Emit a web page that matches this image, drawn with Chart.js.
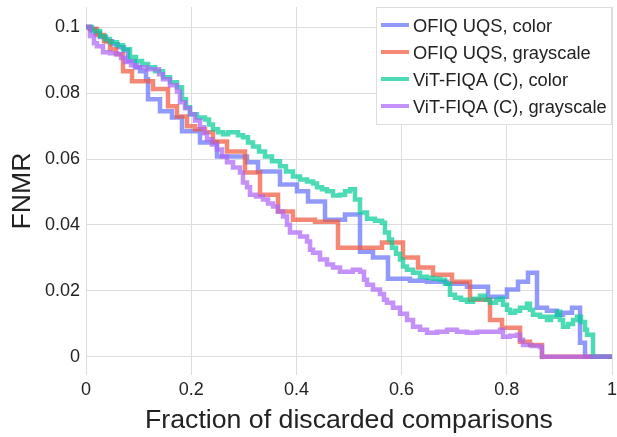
<!DOCTYPE html>
<html>
<head>
<meta charset="utf-8">
<script src="https://cdn.jsdelivr.net/npm/chart.js@4/dist/chart.umd.min.js"></script>
<style>
  body { margin: 0; background: #fff; }
  canvas { display: block; }
</style>
</head>
<body>
<canvas id="fnmr" width="617" height="437"></canvas>
<script>
// FNMR vs fraction of discarded comparisons as [fraction, fnmr] step points
const ofiqColor = [[0,.1],[.0076,.0994],[.0171,.0982],[.0266,.097],[.038,.0957],[.0494,.0948],[.0608,.0939],
  [.0722,.093],[.0798,.0897],[.0932,.0878],[.1027,.0866],[.1141,.0842],[.1179,.0781],[.1407,.0745],[.1635,.0726],
  [.1825,.0684],[.2167,.065],[.249,.0608],[.3061,.059],[.327,.0562],[.3688,.0523],[.4011,.0502],[.4221,.0471],
  [.4544,.0416],[.4924,.0432],[.5209,.0319],[.5456,.0301],[.5741,.0237],[.616,.0231],[.6483,.0228],[.6863,.0222],
  [.7243,.0213],[.7643,.0182],[.8004,.0204],[.8213,.0228],[.8403,.0255],[.8574,.0149],[.8764,.014],[.8954,.0128],
  [.9068,.0134],[.924,.0149],[.9392,.0043],[.9487,0],[1,0]];

const ofiqGray = [[0,.1],[.0076,.0994],[.0209,.0976],[.0342,.0957],[.0456,.0933],[.057,.0918],[.0703,.0866],
  [.0875,.0836],[.1274,.0812],[.1559,.076],[.173,.0729],[.192,.0699],[.2072,.069],[.2262,.0681],[.2414,.0653],
  [.2681,.0623],[.3023,.0559],[.3308,.0492],[.365,.0441],[.3935,.0416],[.4354,.041],[.4791,.0331],[.5627,.0347],
  [.6027,.0301],[.6312,.0271],[.6597,.0249],[.6958,.0228],[.73,.0173],[.7681,.0112],[.7909,.0088],[.8251,.0046],
  [.8441,.0036],[.8669,0],[1,0]];

const vitColor = [[0,.1],[.0114,.0988],[.0266,.0973],[.0361,.0964],[.0456,.0954],[.0589,.0945],[.0703,.0933],
  [.0837,.0909],[.0951,.0897],[.1065,.0888],[.1179,.0878],[.1312,.0866],[.1464,.0848],[.1597,.0833],[.173,.0818],
  [.1825,.0781],[.1901,.0757],[.1977,.0736],[.211,.0726],[.2262,.072],[.2338,.0705],[.2414,.069],[.251,.0681],
  [.2605,.0675],[.27,.0681],[.2795,.0681],[.289,.0672],[.2985,.0666],[.308,.065],[.3175,.0638],[.3289,.0623],
  [.3403,.0608],[.3536,.0593],[.3688,.0578],[.3802,.0562],[.3935,.0547],[.4068,.0538],[.4202,.0532],[.4316,.0526],
  [.4392,.0514],[.4487,.0508],[.4582,.0502],[.4696,.0489],[.4829,.0492],[.4924,.0502],[.5019,.0508],[.5114,.0477],
  [.5209,.0438],[.5342,.0419],[.5494,.0413],[.5627,.0407],[.5684,.0377],[.576,.0356],[.5817,.0331],[.5894,.0313],
  [.597,.0295],[.6027,.0274],[.6103,.0264],[.6217,.0255],[.635,.0243],[.6483,.024],[.6597,.0237],[.673,.0234],
  [.6825,.0222],[.692,.0188],[.7015,.0179],[.7129,.0173],[.7243,.0167],[.7357,.0176],[.749,.0185],[.7586,.0173],
  [.7681,.0164],[.7795,.0173],[.7871,.0176],[.7928,.0158],[.8004,.0143],[.8061,.0134],[.8156,.014],[.8251,.0149],
  [.8384,.0161],[.8441,.0143],[.8498,.0128],[.8631,.0122],[.8764,.0112],[.884,.0122],[.8954,.0137],[.9011,.0112],
  [.9068,.0091],[.9163,.01],[.9259,.0112],[.9335,.0122],[.9411,.0106],[.9487,.0082],[.9525,.0067],[.962,.0067],
  [.9639,0],[1,0]];

const vitGray = [[0,.1],[.0076,.0973],[.0152,.0951],[.0209,.0942],[.0323,.0924],[.0456,.0921],[.0589,.0918],
  [.0665,.0906],[.0741,.0894],[.0856,.0884],[.097,.0878],[.116,.0872],[.1312,.0872],[.1388,.0857],[.1464,.0842],
  [.1597,.0824],[.173,.0805],[.1787,.0772],[.1882,.0754],[.1977,.0736],[.2072,.0717],[.2167,.0696],[.2243,.0678],
  [.23,.066],[.2395,.0644],[.249,.0629],[.2586,.0608],[.2681,.059],[.2795,.0574],[.2928,.0559],[.2985,.0529],
  [.3061,.0514],[.3118,.0492],[.3232,.0486],[.3365,.0477],[.346,.0465],[.3555,.0456],[.365,.0441],[.3745,.0426],
  [.3821,.0401],[.3878,.0377],[.4068,.0365],[.4202,.035],[.4259,.0325],[.4316,.0316],[.4449,.0295],[.4582,.028],
  [.4696,.0271],[.4829,.0258],[.4962,.0258],[.5076,.0264],[.5209,.0258],[.5285,.0234],[.5342,.0219],[.5456,.0204],
  [.5589,.0191],[.5665,.0173],[.5722,.0164],[.5837,.0149],[.597,.0131],[.6103,.0112],[.6217,.0091],[.635,.0082],
  [.6483,.0073],[.6673,.0076],[.6863,.0082],[.7053,.0076],[.7243,.0073],[.7433,.0076],[.7624,.0076],[.7871,.0082],
  [.7928,.0061],[.8061,.0064],[.8194,.0067],[.8251,.0052],[.8308,.0036],[.8479,.0033],[.8631,.003],[.8669,0],[1,0]];

const seriesNames = ['OFIQ UQS, color', 'OFIQ UQS, grayscale', 'ViT-FIQA (C), color', 'ViT-FIQA (C), grayscale'];
const seriesColors = ['rgba(99,110,250,0.7)', 'rgba(239,85,59,0.7)', 'rgba(0,204,150,0.7)', 'rgba(171,99,250,0.7)'];

const xTicks = [0, 0.2, 0.4, 0.6, 0.8, 1];
const xTickLabels = ['0', '0.2', '0.4', '0.6', '0.8', '1'];
const yTicks = [0, 0.02, 0.04, 0.06, 0.08, 0.1];
const yTickLabels = ['0', '0.02', '0.04', '0.06', '0.08', '0.1'];

const FONT = '"Liberation Sans", Arial, sans-serif';
const INK = '#222';
const GRID = '#dedede';

const toPts = arr => arr.map(([x, y]) => ({x, y}));

// legend box drawn inside the plot, top right, like the original
const insideLegend = {
  id: 'insideLegend',
  afterDraw(chart) {
    const {ctx, chartArea} = chart;
    const w = 236, h = 118;
    const x0 = chartArea.right - w, y0 = chartArea.top;
    ctx.save();
    ctx.fillStyle = '#fff';
    ctx.fillRect(x0, y0, w, h);
    ctx.strokeStyle = GRID;
    ctx.lineWidth = 1;
    ctx.strokeRect(x0 + 0.5, y0 + 0.5, w - 1, h - 1);
    ctx.font = '18.3px ' + FONT;
    ctx.textBaseline = 'middle';
    chart.data.datasets.forEach((ds, i) => {
      const y = y0 + 18 + i * 27;
      ctx.strokeStyle = ds.borderColor;
      ctx.lineWidth = 4;
      ctx.beginPath();
      ctx.moveTo(x0 + 5, y);
      ctx.lineTo(x0 + 33, y);
      ctx.stroke();
      ctx.fillStyle = INK;
      ctx.fillText(ds.label, x0 + 37, y + 1.5);
    });
    ctx.restore();
  }
};

// keep the plot box exactly where the layout padding puts it
const noLabelPad = axis => { axis.paddingTop = 0; axis.paddingBottom = 0; axis.paddingLeft = 0; axis.paddingRight = 0; };

const series = [ofiqColor, ofiqGray, vitColor, vitGray];

new Chart(document.getElementById('fnmr'), {
  type: 'line',
  data: {
    datasets: series.map((s, i) => ({
      label: seriesNames[i],
      data: toPts(s),
      borderColor: seriesColors[i],
      borderWidth: 4.5,
      stepped: true,
      pointRadius: 0,
      fill: false,
      order: series.length - i, // later traces on top
    })),
  },
  options: {
    responsive: false,
    animation: false,
    devicePixelRatio: 1,
    layout: { padding: { top: 7, right: 5, left: 0, bottom: 0 } },
    plugins: { legend: { display: false }, tooltip: { enabled: false } },
    scales: {
      x: {
        type: 'linear',
        min: 0,
        max: 1,
        afterBuildTicks: axis => { axis.ticks = xTicks.map(v => ({value: v})); },
        afterFit: axis => { axis.height = 62; noLabelPad(axis); },
        grid: { color: GRID, drawTicks: false },
        border: { display: false },
        ticks: {
          padding: 4,
          color: INK,
          font: { family: FONT, size: 18 },
          maxRotation: 0,
          callback: (v, i) => xTickLabels[i],
        },
        title: {
          display: true,
          text: 'Fraction of discarded comparisons',
          color: INK,
          font: { family: FONT, size: 26.7, lineHeight: 1 },
          padding: { top: 0, bottom: 3 },
        },
      },
      y: {
        type: 'linear',
        min: -0.0055,
        max: 0.1061,
        afterBuildTicks: axis => { axis.ticks = yTicks.map(v => ({value: v})); },
        afterFit: axis => { axis.width = 86; noLabelPad(axis); },
        grid: { color: GRID, drawTicks: false },
        border: { display: false },
        ticks: {
          padding: 6,
          color: INK,
          font: { family: FONT, size: 18 },
          callback: (v, i) => yTickLabels[i],
        },
        title: {
          display: true,
          text: 'FNMR',
          color: INK,
          font: { family: FONT, size: 26.7, lineHeight: 1 },
          padding: { top: 9, bottom: 0 },
        },
      },
    },
  },
  plugins: [insideLegend],
});
</script>
</body>
</html>
